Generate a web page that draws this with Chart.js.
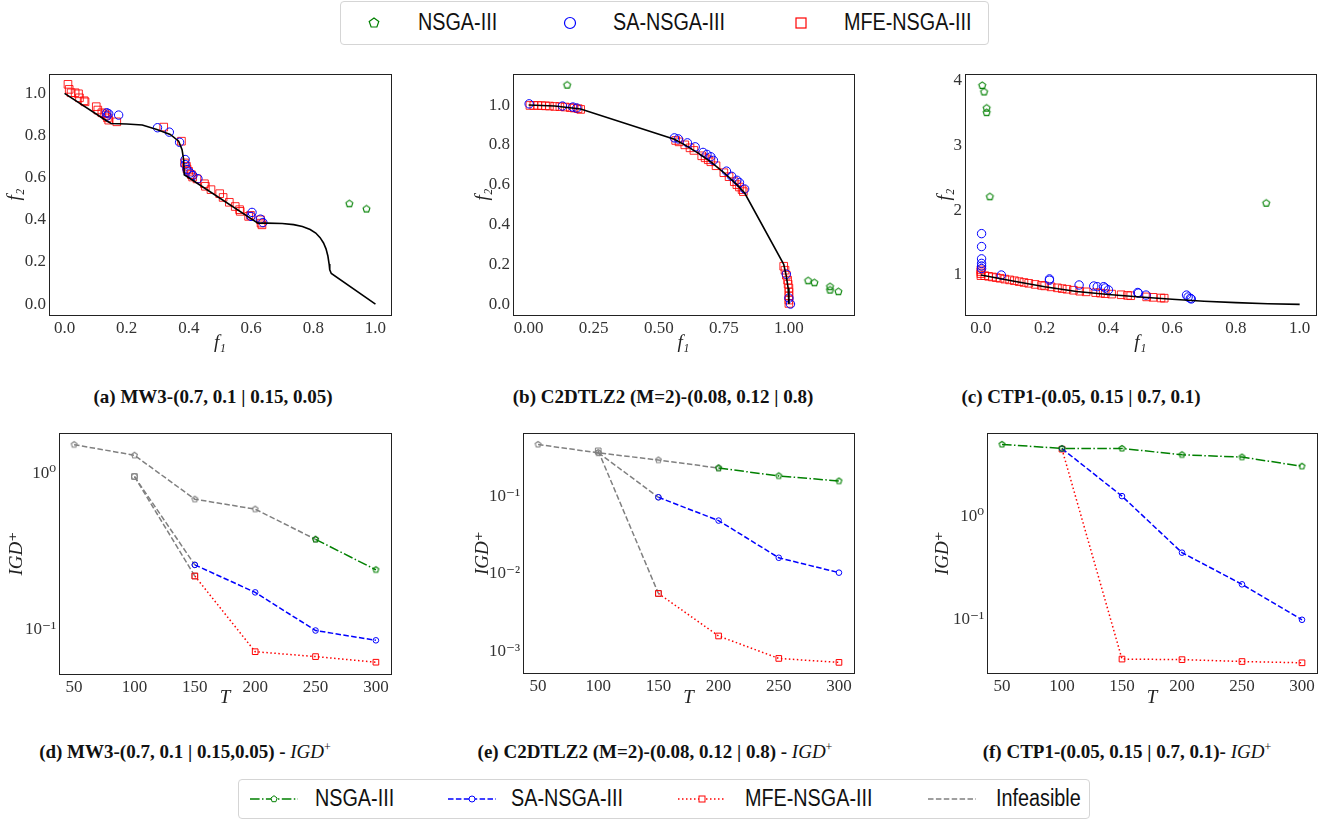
<!DOCTYPE html>
<html>
<head>
<meta charset="utf-8">
<script src="https://cdn.jsdelivr.net/npm/chart.js@4.4.1/dist/chart.umd.min.js"></script>
<style>
  body { margin: 0; background: #fff; }
  #page { position: relative; width: 1322px; height: 819px; overflow: hidden; }
  canvas { position: absolute; }
  .cap { position: absolute; width: 520px; text-align: center; font-family: 'Liberation Serif', serif; font-weight: bold; font-size: 19px; color: #111; white-space: nowrap; line-height: 1; }
  .cap i { font-weight: normal; }
  .cap sup { font-size: 12px; font-weight: normal; }
  .leg { position: absolute; border: 1px solid #d5d5d5; border-radius: 4px; background: #fff; }
  .leg span { position: absolute; font-family: 'Liberation Sans', Arial, sans-serif; font-size: 23px; color: #111; line-height: 1; white-space: nowrap; transform: scaleX(0.86); transform-origin: 0 50%; }
  .leg svg { position: absolute; overflow: visible; }
</style>
</head>
<body>
<div id="page">
  <div class="leg" style="left:340px;top:1px;width:647px;height:42px">
    <svg style="left:33px;top:21px" width="1" height="1"><polygon points="0,-5 4.8,-1.5 2.9,4 -2.9,4 -4.8,-1.5" fill="none" stroke="green" stroke-width="1.2"/></svg>
    <span style="left:77px;top:9px">NSGA-III</span>
    <svg style="left:229px;top:21px" width="1" height="1"><circle cx="0" cy="0" r="5.5" fill="none" stroke="#0000ff" stroke-width="1.2"/></svg>
    <span style="left:272px;top:9px">SA-NSGA-III</span>
    <svg style="left:460px;top:21px" width="1" height="1"><rect x="-5" y="-5" width="10" height="10" fill="none" stroke="#ff0000" stroke-width="1.2"/></svg>
    <span style="left:503px;top:9px">MFE-NSGA-III</span>
  </div>

  <div class="cap" style="left:-47px;top:387px">(a) MW3-(0.7, 0.1 | 0.15, 0.05)</div>
  <div class="cap" style="left:403px;top:387px">(b) C2DTLZ2 (M=2)-(0.08, 0.12 | 0.8)</div>
  <div class="cap" style="left:821px;top:387px">(c) CTP1-(0.05, 0.15 | 0.7, 0.1)</div>
  <div class="cap" style="left:-75px;top:741px">(d) MW3-(0.7, 0.1 | 0.15,0.05) - <i>IGD</i><sup>+</sup></div>
  <div class="cap" style="left:395px;top:741px">(e) C2DTLZ2 (M=2)-(0.08, 0.12 | 0.8) - <i>IGD</i><sup>+</sup></div>
  <div class="cap" style="left:867px;top:741px">(f) CTP1-(0.05, 0.15 | 0.7, 0.1)- <i>IGD</i><sup>+</sup></div>

  <div class="leg" style="left:238px;top:779px;width:850px;height:38px">
    <svg style="left:11px;top:19px" width="1" height="1"><line x1="0" y1="0" x2="48" y2="0" stroke="green" stroke-width="1.5" stroke-dasharray="9.6,2.4,1.5,2.4"/><polygon points="24,-3.3 27.1,-1 25.9,2.7 22.1,2.7 20.9,-1" fill="#fff" stroke="green" stroke-width="1"/></svg>
    <span style="left:76px;top:7px">NSGA-III</span>
    <svg style="left:209px;top:19px" width="1" height="1"><line x1="0" y1="0" x2="48" y2="0" stroke="#0000ff" stroke-width="1.5" stroke-dasharray="5.5,2.4"/><circle cx="24" cy="0" r="3" fill="#fff" stroke="#0000ff" stroke-width="1"/></svg>
    <span style="left:272px;top:7px">SA-NSGA-III</span>
    <svg style="left:439px;top:19px" width="1" height="1"><line x1="0" y1="0" x2="48" y2="0" stroke="#ff0000" stroke-width="1.5" stroke-dasharray="1.5,2.5"/><rect x="21" y="-3" width="6" height="6" fill="#fff" stroke="#ff0000" stroke-width="1"/></svg>
    <span style="left:506px;top:7px">MFE-NSGA-III</span>
    <svg style="left:689px;top:19px" width="1" height="1"><line x1="0" y1="0" x2="48" y2="0" stroke="#808080" stroke-width="1.5" stroke-dasharray="5.5,2.4"/></svg>
    <span style="left:757px;top:7px">Infeasible</span>
  </div>
</div>

<script>
// ---- data ----
var T = [50, 100, 150, 200, 250, 300];

// (a) MW3 final populations
var mw3Front = [[0, 1.0], [0.135, 0.87], [0.15, 0.857], [0.2, 0.855], [0.25, 0.85], [0.297, 0.829], [0.34, 0.805], [0.367, 0.773], [0.378, 0.733], [0.383, 0.686], [0.385, 0.614], [0.622, 0.384], [0.651, 0.384], [0.7, 0.382], [0.737, 0.377], [0.765, 0.368], [0.79, 0.354], [0.808, 0.337], [0.822, 0.315], [0.833, 0.29], [0.841, 0.262], [0.847, 0.228], [0.851, 0.19], [0.853, 0.162], [0.858, 0.145], [1.0, 0.0]];
var mw3Nsga = [[0.916, 0.476], [0.971, 0.451]];
var mw3Sa = [[0.136, 0.908], [0.142, 0.903], [0.136, 0.892], [0.174, 0.897], [0.299, 0.837], [0.337, 0.816], [0.37, 0.768], [0.388, 0.686], [0.388, 0.662], [0.394, 0.638], [0.404, 0.622], [0.413, 0.61], [0.429, 0.595], [0.603, 0.435], [0.6, 0.416], [0.63, 0.403], [0.638, 0.387]];
var mw3Mfe = [[0.011, 1.043], [0.015, 1.019], [0.021, 1.003], [0.034, 1.003], [0.045, 0.998], [0.048, 0.979], [0.063, 0.965], [0.066, 0.96], [0.102, 0.937], [0.107, 0.921], [0.12, 0.908], [0.129, 0.903], [0.134, 0.895], [0.138, 0.884], [0.142, 0.873], [0.168, 0.865], [0.319, 0.84], [0.376, 0.773], [0.386, 0.67], [0.392, 0.654], [0.394, 0.641], [0.399, 0.63], [0.408, 0.614], [0.412, 0.603], [0.426, 0.594], [0.45, 0.571], [0.453, 0.559], [0.471, 0.543], [0.499, 0.524], [0.51, 0.506], [0.53, 0.483], [0.549, 0.463], [0.563, 0.448], [0.565, 0.44], [0.592, 0.416], [0.598, 0.421], [0.63, 0.4], [0.632, 0.384], [0.635, 0.376]];

// (b) C2DTLZ2
var c2Front = [[0, 1.0], [0.1, 0.995], [0.2, 0.98], [0.56, 0.828], [0.6, 0.8], [0.65, 0.76], [0.7, 0.714], [0.75, 0.661], [0.8, 0.6], [0.83, 0.558], [0.98, 0.2], [0.99, 0.14], [0.997, 0.08], [1.0, 0.0]];
var c2Nsga = [[0.148, 1.10], [1.074, 0.117], [1.098, 0.107], [1.158, 0.087], [1.158, 0.07], [1.19, 0.062]];
var c2Sa = [[0.002, 1.006], [0.13, 0.995], [0.17, 0.99], [0.185, 0.985], [0.56, 0.835], [0.575, 0.83], [0.61, 0.81], [0.64, 0.79], [0.67, 0.762], [0.685, 0.752], [0.7, 0.74], [0.71, 0.722], [0.76, 0.668], [0.78, 0.642], [0.8, 0.622], [0.81, 0.61], [0.83, 0.578], [0.99, 0.15], [1.0, 0.03], [1.006, 0.0]];
var c2Mfe = [[0.005, 0.998], [0.02, 0.998], [0.035, 0.998], [0.05, 0.997], [0.065, 0.996], [0.08, 0.995], [0.1, 0.993], [0.12, 0.992], [0.14, 0.99], [0.16, 0.987], [0.175, 0.985], [0.19, 0.982], [0.2, 0.978], [0.565, 0.822], [0.578, 0.815], [0.6, 0.8], [0.62, 0.785], [0.635, 0.772], [0.665, 0.745], [0.678, 0.735], [0.69, 0.725], [0.7, 0.715], [0.72, 0.695], [0.75, 0.66], [0.77, 0.64], [0.79, 0.615], [0.8, 0.6], [0.81, 0.588], [0.82, 0.575], [0.825, 0.565], [0.98, 0.19], [0.985, 0.17], [0.99, 0.145], [0.995, 0.12], [0.997, 0.1], [1.0, 0.08], [1.0, 0.06], [1.0, 0.04], [1.0, 0.02], [1.0, 0.003]];

// (c) CTP1
var ctpFront = [[0, 1.0], [0.1, 0.907], [0.2, 0.82], [0.3, 0.745], [0.4, 0.70], [0.5, 0.66], [0.6, 0.625], [0.7, 0.595], [0.8, 0.573], [0.9, 0.557], [1.0, 0.547]];
var ctpNsga = [[0.004, 3.93], [0.01, 3.83], [0.018, 3.58], [0.018, 3.51], [0.028, 2.21], [0.895, 2.11]];
var ctpSa = [[0.002, 1.64], [0.002, 1.44], [0.002, 1.25], [0.002, 1.18], [0.002, 1.14], [0.002, 1.10], [0.064, 1.0], [0.215, 0.94], [0.215, 0.92], [0.308, 0.846], [0.354, 0.83], [0.365, 0.82], [0.385, 0.82], [0.39, 0.80], [0.4, 0.77], [0.492, 0.73], [0.494, 0.72], [0.518, 0.69], [0.645, 0.69], [0.65, 0.66], [0.657, 0.64], [0.66, 0.63]];
var ctpMfe = [[0.0, 1.08], [0.0, 1.05], [0.0, 1.02], [0.0, 0.99], [0.012, 0.99], [0.024, 0.98], [0.036, 0.97], [0.048, 0.96], [0.06, 0.95], [0.075, 0.937], [0.09, 0.925], [0.105, 0.912], [0.12, 0.898], [0.135, 0.885], [0.15, 0.872], [0.17, 0.855], [0.19, 0.84], [0.2, 0.832], [0.22, 0.817], [0.24, 0.802], [0.255, 0.79], [0.27, 0.78], [0.29, 0.765], [0.31, 0.75], [0.33, 0.74], [0.36, 0.728], [0.375, 0.72], [0.39, 0.712], [0.41, 0.705], [0.44, 0.695], [0.46, 0.685], [0.47, 0.68], [0.52, 0.662], [0.54, 0.655], [0.565, 0.645], [0.575, 0.642]];

// IGD+ over T (null = not reached)
var mw3IgdNsga = [null, null, null, null, 0.376, 0.24];
var mw3IgdNsgaInf = [1.52, 1.30, 0.68, 0.587, 0.376, null];
var mw3IgdSa = [null, null, 0.258, 0.172, 0.098, 0.0848];
var mw3IgdSaInf = [null, 0.95, 0.258, null, null, null];
var mw3IgdMfe = [null, null, 0.219, 0.0717, 0.0667, 0.0614];
var mw3IgdMfeInf = [null, 0.95, 0.219, null, null, null];

var c2IgdNsga = [null, null, null, 0.234, 0.185, 0.159];
var c2IgdNsgaInf = [0.472, 0.368, 0.297, 0.234, null, null];
var c2IgdSa = [null, null, 0.098, 0.049, 0.0162, 0.0104];
var c2IgdSaInf = [null, 0.37, 0.098, null, null, null];
var c2IgdMfe = [null, null, 0.0056, 0.00158, 0.00081, 0.00072];
var c2IgdMfeInf = [null, 0.39, 0.0056, null, null, null];

var ctpIgdNsga = [5.06, 4.62, 4.62, 4.01, 3.81, 3.10];
var ctpIgdSa = [null, 4.6, 1.59, 0.449, 0.221, 0.1];
var ctpIgdMfe = [null, 4.55, 0.0415, 0.041, 0.0393, 0.0382];

// tick values
var ticks01 = [0, 0.2, 0.4, 0.6, 0.8, 1.0];
var ticksQuarter = [0, 0.25, 0.5, 0.75, 1.0];
var ticksCtpY = [1, 2, 3, 4];
var ticksT = [50, 100, 150, 200, 250, 300];

// ---- helpers ----
var GREEN = '#008000', BLUE = '#0000ff', RED = '#ff0000', GRAY = '#808080';
var tickFont = { family: "'Liberation Serif', 'DejaVu Serif', serif", size: 17 };
var titleFont = { family: "'Liberation Serif', 'DejaVu Serif', serif", size: 19, style: 'italic' };
var LH = 19 * 1.2;

function pentagon(color, r) {
  var c = document.createElement('canvas');
  var s = Math.ceil(r * 2 + 3);
  c.width = s; c.height = s;
  var g = c.getContext('2d');
  g.strokeStyle = color; g.lineWidth = 1.1;
  g.beginPath();
  for (var i = 0; i < 5; i++) {
    var a = -Math.PI / 2 + i * 2 * Math.PI / 5;
    var px = s / 2 + r * Math.cos(a), py = s / 2 + r * Math.sin(a);
    if (i === 0) g.moveTo(px, py); else g.lineTo(px, py);
  }
  g.closePath(); g.stroke();
  return c;
}
var pentBig = pentagon(GREEN, 3.6);
var pentSmallG = pentagon(GREEN, 3);
var pentSmallGray = pentagon(GRAY, 3);

function pts(arr) { return arr.map(function (p) { return { x: p[0], y: p[1] }; }); }
function series(vals) {
  var out = [];
  T.forEach(function (t, i) { if (vals[i] !== null) out.push({ x: t, y: vals[i] }); });
  return out;
}

var frame = {
  id: 'frame',
  afterDraw: function (c) {
    var a = c.chartArea, ctx = c.ctx;
    ctx.save();
    ctx.strokeStyle = '#222'; ctx.lineWidth = 1;
    ctx.strokeRect(Math.round(a.left) + 0.5, Math.round(a.top) + 0.5, Math.round(a.right - a.left), Math.round(a.bottom - a.top));
    ctx.restore();
  }
};

var supMap = { '-': '\u207B', '0': '\u2070', '1': '\u00B9', '2': '\u00B2', '3': '\u00B3' };
function logLabel(v) {
  var e = Math.log10(v), r = Math.round(e);
  if (Math.abs(e - r) > 1e-6) return '';
  return '10' + String(r).split('').map(function (ch) { return supMap[ch]; }).join('');
}
function logTicks(lo, hi) {
  var out = [];
  for (var e = -4; e <= 1; e++) {
    for (var m = 1; m <= 9; m++) {
      var v = m * Math.pow(10, e);
      if (v >= lo && v <= hi) out.push(v);
    }
  }
  return out;
}

function makeChart(p) {
  var cv = document.createElement('canvas');
  cv.width = p.w; cv.height = p.h;
  cv.style.left = p.x + 'px'; cv.style.top = p.y + 'px';
  document.getElementById('page').appendChild(cv);

  var xScale = {
    type: 'linear', position: 'bottom', min: p.xr[0], max: p.xr[1],
    grid: { display: false, drawTicks: false }, border: { display: false },
    ticks: { font: tickFont, color: '#333', padding: 3, autoSkip: false, maxRotation: 0,
      callback: function (v) { return p.xfmt(v); } },
    title: { display: true, text: p.xTitle, font: titleFont, color: '#222',
      padding: { top: 0, bottom: p.y + p.h - p.xTitleY - LH / 2 } },
    afterBuildTicks: function (s) { s.ticks = p.xt.map(function (v) { return { value: v }; }); },
    afterFit: function (s) { s.height = p.y + p.h - p.area.b; }
  };
  var yScale = {
    type: p.ylog ? 'logarithmic' : 'linear', position: 'left', min: p.yr[0], max: p.yr[1],
    grid: { display: false, drawTicks: false }, border: { display: false },
    ticks: { font: tickFont, color: '#333', padding: 3, autoSkip: false,
      callback: function (v) { return p.yfmt(v); } },
    title: { display: true, text: p.yTitle, font: titleFont, color: '#222',
      padding: { top: p.yTitleX - p.x - LH / 2, bottom: 0 } },
    afterBuildTicks: function (s) { s.ticks = p.yt.map(function (v) { return { value: v }; }); },
    afterFit: function (s) { s.width = p.area.l - p.x; }
  };

  return new Chart(cv, {
    type: 'scatter',
    data: { datasets: p.datasets },
    options: {
      responsive: false, animation: false,
      layout: { padding: { left: 0, top: p.area.t - p.y, right: p.x + p.w - p.area.r, bottom: 0 } },
      plugins: { legend: { display: false }, tooltip: { enabled: false } },
      scales: { x: xScale, y: yScale }
    },
    plugins: [frame]
  });
}

function frontDs(arr) {
  return { data: pts(arr), showLine: true, borderColor: '#000', borderWidth: 1.6, pointRadius: 0, fill: false };
}
function nsgaDs(arr) {
  return { data: pts(arr), pointStyle: pentBig, pointRadius: 4 };
}
function saDs(arr) {
  return { data: pts(arr), pointStyle: 'circle', pointRadius: 4.2, pointBorderColor: BLUE, pointBackgroundColor: 'rgba(0,0,0,0)', pointBorderWidth: 1 };
}
function mfeDs(arr) {
  return { data: pts(arr), pointStyle: 'rect', pointRadius: 5.4, pointBorderColor: 'rgba(255,0,0,0.85)', pointBackgroundColor: 'rgba(0,0,0,0)', pointBorderWidth: 1 };
}

function lineDs(vals, color, dash, marker, radius) {
  return {
    data: series(vals), showLine: true, borderColor: color, borderWidth: 1.5, borderDash: dash, fill: false,
    pointStyle: marker, pointRadius: radius, pointBorderColor: color, pointBackgroundColor: 'rgba(0,0,0,0)', pointBorderWidth: 1
  };
}
var DASHDOT = [9.6, 2.4, 1.5, 2.4], DASH = [5.5, 2.4], DOT = [1.5, 2.5];
function igdSets(nsga, sa, mfe, nsgaInf, saInf, mfeInf) {
  var out = [
    lineDs(nsga, GREEN, DASHDOT, pentSmallG, 3),
    lineDs(sa, BLUE, DASH, 'circle', 2.8),
    lineDs(mfe, RED, DOT, 'rect', 4)
  ];
  if (nsgaInf) out.push(lineDs(nsgaInf, GRAY, DASH, pentSmallGray, 3));
  if (saInf) out.push(lineDs(saInf, GRAY, DASH, 'circle', 2.8));
  if (mfeInf) out.push(lineDs(mfeInf, GRAY, DASH, 'rect', 4));
  return out;
}

function fmt(d) { return function (v) { return v.toFixed(d); }; }

// ---- top row ----
makeChart({ x: 0, y: 60, w: 405, h: 300, area: { l: 49, t: 74, r: 391, b: 315 },
  xr: [-0.05, 1.05], yr: [-0.052, 1.092], xt: ticks01, yt: ticks01, xfmt: fmt(1), yfmt: fmt(1),
  xTitle: 'f\u2081', yTitle: 'f\u2082', yTitleX: 15, xTitleY: 343,
  datasets: [frontDs(mw3Front), saDs(mw3Sa), mfeDs(mw3Mfe), nsgaDs(mw3Nsga)] });

makeChart({ x: 464, y: 60, w: 405, h: 300, area: { l: 513, t: 74, r: 854, b: 315 },
  xr: [-0.06, 1.25], yr: [-0.055, 1.156], xt: ticksQuarter, yt: ticks01, xfmt: fmt(2), yfmt: fmt(1),
  xTitle: 'f\u2081', yTitle: 'f\u2082', yTitleX: 483, xTitleY: 343,
  datasets: [frontDs(c2Front), saDs(c2Sa), mfeDs(c2Mfe), nsgaDs(c2Nsga)] });

makeChart({ x: 916, y: 60, w: 406, h: 300, area: { l: 965, t: 74, r: 1319, b: 315 },
  xr: [-0.05, 1.05], yr: [0.382, 4.108], xt: ticks01, yt: ticksCtpY, xfmt: fmt(1), yfmt: fmt(0),
  xTitle: 'f\u2081', yTitle: 'f\u2082', yTitleX: 945, xTitleY: 343,
  datasets: [frontDs(ctpFront), saDs(ctpSa), mfeDs(ctpMfe), nsgaDs(ctpNsga)] });

// ---- bottom row ----
makeChart({ x: 0, y: 420, w: 405, h: 295, area: { l: 59, t: 432, r: 391, b: 674 },
  xr: [37.5, 312.5], yr: [0.0516, 1.8], ylog: true, xt: ticksT, yt: logTicks(0.0516, 1.8), xfmt: fmt(0), yfmt: logLabel,
  xTitle: 'T', yTitle: 'IGD\u207A', yTitleX: 17, xTitleY: 698,
  datasets: igdSets(mw3IgdNsga, mw3IgdSa, mw3IgdMfe, mw3IgdNsgaInf, mw3IgdSaInf, mw3IgdMfeInf) });

makeChart({ x: 460, y: 420, w: 405, h: 295, area: { l: 523, t: 432, r: 854, b: 673 },
  xr: [37.5, 312.5], yr: [0.000525, 0.66], ylog: true, xt: ticksT, yt: logTicks(0.000525, 0.66), xfmt: fmt(0), yfmt: logLabel,
  xTitle: 'T', yTitle: 'IGD\u207A', yTitleX: 483, xTitleY: 698,
  datasets: igdSets(c2IgdNsga, c2IgdSa, c2IgdMfe, c2IgdNsgaInf, c2IgdSaInf, c2IgdMfeInf) });

makeChart({ x: 917, y: 420, w: 405, h: 295, area: { l: 987, t: 432, r: 1318, b: 673 },
  xr: [37.5, 312.5], yr: [0.0304, 6.5], ylog: true, xt: ticksT, yt: logTicks(0.0304, 6.5), xfmt: fmt(0), yfmt: logLabel,
  xTitle: 'T', yTitle: 'IGD\u207A', yTitleX: 943, xTitleY: 698,
  datasets: igdSets(ctpIgdNsga, ctpIgdSa, ctpIgdMfe) });
</script>
</body>
</html>
